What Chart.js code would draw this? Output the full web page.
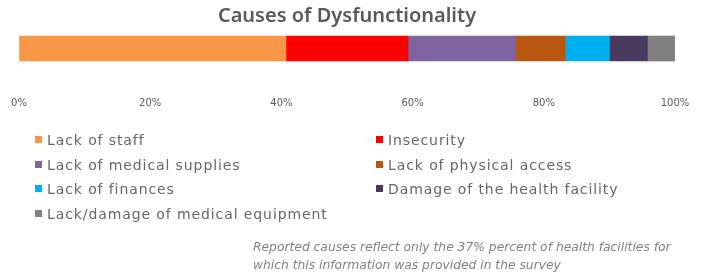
<!DOCTYPE html>
<html>
<head>
<meta charset="utf-8">
<script src="https://cdn.jsdelivr.net/npm/chart.js@4.4.1/dist/chart.umd.min.js"></script>
<style>
  body { margin: 0; background: #fff; }
  #wrap { position: relative; width: 707px; height: 277px; overflow: hidden; }
  #chart { position: absolute; left: 0; top: 0; }
  .leg { position: absolute; font-family: "DejaVu Sans", sans-serif; font-size: 14px; letter-spacing: 0.9px; color: #666; line-height: 18px; white-space: nowrap; }
  .leg span.box { display: inline-block; width: 7px; height: 7px; margin-right: 5px; vertical-align: 2px; }
  #note { position: absolute; left: 253px; top: 238px; font-family: "DejaVu Sans", sans-serif; font-style: italic; font-size: 12.3px; line-height: 18px; color: #808080; white-space: nowrap; }
</style>
</head>
<body>
<div id="wrap">
  <canvas id="chart" width="707" height="277"></canvas>
  <div id="legend"></div>
  <div id="note">Reported causes reflect only the 37% percent of health facilities for<br>which this information was provided in the survey</div>
</div>
<script>
// data (share of reported causes, %)
var categories = ['Causes'];
var causeLabels = [
	'Lack of staff',
	'Insecurity',
	'Lack of medical supplies',
	'Lack of physical access',
	'Lack of finances',
	'Damage of the health facility',
	'Lack/damage of medical equipment'
];
var causeValues = [40.7, 18.6, 16.4, 7.6, 6.7, 5.8, 4.2];
var tickLabels = ['0%', '20%', '40%', '60%', '80%', '100%'];

var causeColors = ['#F79646', '#FF0000', '#8064A2', '#B9560F', '#00B0F0', '#4A3A60', '#808080'];

var datasets = [];
for (var i = 0; i < causeLabels.length; i++) {
	datasets.push({
		label : causeLabels[i],
		data : [causeValues[i]],
		backgroundColor : causeColors[i],
		borderWidth : 0,
		barThickness : 25
	});
}

// legend, two columns
var legend = document.getElementById('legend');
for (var i = 0; i < causeLabels.length; i++) {
	var col = i % 2, row = Math.floor(i / 2);
	var d = document.createElement('div');
	d.className = 'leg';
	d.style.left = (col == 0 ? 35 : 376) + 'px';
	d.style.top = (131 + row * 24.6) + 'px';
	d.innerHTML = '<span class="box" style="background:' + causeColors[i] + '"></span>' + causeLabels[i];
	legend.appendChild(d);
}

var ctx = document.getElementById('chart');
var chart = new Chart(ctx, {
	type : 'bar',
	data : {
		labels : categories,
		datasets : datasets
	},
	options : {
		indexAxis : 'y',
		responsive : false,
		animation : false,
		layout : {
			padding : { top : 0, left : 19, right : 32, bottom : 166 }
		},
		plugins : {
			legend : { display : false },
			tooltip : { enabled : false },
			title : {
				display : true,
				text : 'Causes of Dysfunctionality',
				color : '#595959',
				font : { family : 'Noto Sans', size : 20, weight : '600' },
				padding : { top : 4, bottom : 4 }
			}
		},
		scales : {
			x : {
				stacked : true,
				min : 0,
				max : 100,
				// invisible tick marks push the labels down without widening the side padding
				grid : { display : true, drawOnChartArea : false, drawTicks : true, tickLength : 30, color : 'rgba(0,0,0,0)' },
				border : { display : false },
				ticks : {
					stepSize : 20,
					padding : 2,
					color : '#595959',
					font : { family : 'DejaVu Sans', size : 10 },
					callback : function(v) { return tickLabels[v / 20]; }
				}
			},
			y : {
				stacked : true,
				display : false
			}
		}
	}
});
</script>
</body>
</html>
